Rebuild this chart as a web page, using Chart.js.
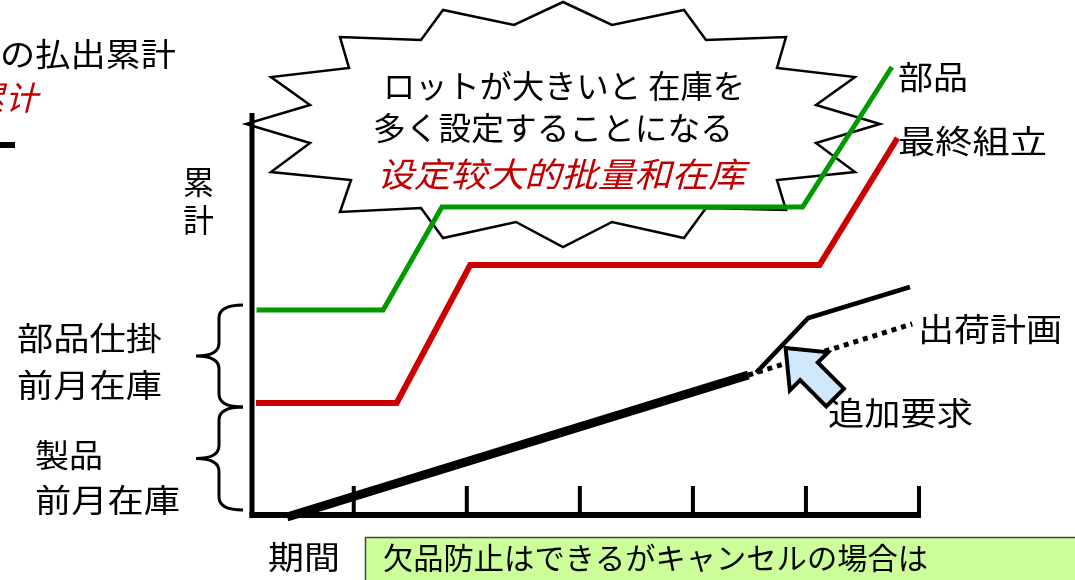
<!DOCTYPE html>
<html>
<head>
<meta charset="utf-8">
<script src="https://cdn.jsdelivr.net/npm/chart.js@4"></script>
<style>
  body { margin: 0; background: #fff; }
  canvas { display: block; }
</style>
</head>
<body>
<canvas id="lotChart" width="1075" height="580"></canvas>
<script>
// data (x = period units, y = cumulative units)
const periodTicks = [9, 19, 29, 39, 49, 59];
const partsX = [0.4, 11.6, 16.8, 48.7, 56.6];
const partsY = [51.25, 51.25, 77, 77, 112];
const assyX = [0.35, 12.8, 19.3, 50.2, 57.1];
const assyY = [28, 28, 62.5, 62.5, 94.25];
const shipX = [3.1, 43.9];
const shipY = [-0.5, 35];
const planX = [43.9, 58.4];
const planY = [35, 47.75];
const extraX = [44.6, 49.2, 58.2];
const extraY = [35.6, 49.25, 57];
const yAxisTop = 100.5;

const JP = '"Noto Sans CJK JP", "Noto Sans CJK SC", sans-serif';
const SC = '"Noto Sans CJK SC", "Noto Sans CJK JP", sans-serif';

function pts(xs, ys) {
    return xs.map((x, i) => ({ x: x, y: ys[i] }));
}

// stretch text to a given width (source slide was scaled wide)
function fitText(ctx, text, x, cy, w, size, color, italic, family) {
    ctx.save();
    ctx.font = (italic ? 'italic ' : '') + size + 'px ' + (family || JP);
    ctx.fillStyle = color || '#000';
    ctx.textBaseline = 'middle';
    ctx.textAlign = 'left';
    const m = ctx.measureText(text).width;
    ctx.translate(x, cy);
    ctx.scale(w / m, 1);
    ctx.fillText(text, 0, 0);
    ctx.restore();
}

const callout = [
    [563,2],[612,25],[684,10],[706,40],[786,37],[777,68],[855,77],[816,105],
    [880,124],[816,143],[855,172],[777,180],[786,210],[706,208],[684,238],
    [612,222],[563,247],[516,222],[443,238],[421,208],[340,212],[351,180],
    [271,172],[310,143],[246,124],[310,105],[271,77],[349,68],[340,37],
    [421,40],[443,10],[514,25]
];

const labels = [
    { t: 'の払出累計', x: 0, y: 54, w: 176 },
    { t: 'ロットが大きいと 在庫を', x: 383, y: 86, w: 362, s: 32 },
    { t: '多く設定することになる', x: 373, y: 128, w: 360, s: 32 },
    { t: '设定较大的批量和在库', x: 377, y: 174, w: 368, s: 34, c: '#c00000', i: true, f: SC },
    { t: '部品', x: 898, y: 77, w: 70 },
    { t: '最終組立', x: 898, y: 141, w: 149 },
    { t: '出荷計画', x: 918, y: 329, w: 144 },
    { t: '追加要求', x: 828, y: 413, w: 145 },
    { t: '累', x: 183, y: 182, w: 31 },
    { t: '計', x: 183, y: 220, w: 31 },
    { t: '部品仕掛', x: 17, y: 338, w: 145 },
    { t: '前月在庫', x: 17, y: 385, w: 145 },
    { t: '製品', x: 35, y: 455, w: 68 },
    { t: '前月在庫', x: 35, y: 500, w: 145 },
    { t: '期間', x: 268, y: 557, w: 72 }
];

function brace(ctx, xr, yt, yb) {
    const xm = xr - 24, xt = xr - 47, ym = (yt + yb) / 2, r = 13;
    ctx.beginPath();
    ctx.moveTo(xr, yt);
    ctx.quadraticCurveTo(xm, yt, xm, yt + r);
    ctx.lineTo(xm, ym - r);
    ctx.quadraticCurveTo(xm, ym, xt, ym);
    ctx.quadraticCurveTo(xm, ym, xm, ym + r);
    ctx.lineTo(xm, yb - r);
    ctx.quadraticCurveTo(xm, yb, xr, yb);
    ctx.stroke();
}

const decorPlugin = {
    id: 'decor',
    beforeDatasetsDraw(chart) {
        const ctx = chart.ctx;
        const xs = chart.scales.x, ys = chart.scales.y;
        const x0 = xs.getPixelForValue(0), y0 = ys.getPixelForValue(0);
        ctx.save();
        // starburst callout
        ctx.beginPath();
        callout.forEach((p, i) => i ? ctx.lineTo(p[0], p[1]) : ctx.moveTo(p[0], p[1]));
        ctx.closePath();
        ctx.fillStyle = '#fff';
        ctx.fill();
        ctx.lineWidth = 2.5;
        ctx.strokeStyle = '#000';
        ctx.lineJoin = 'miter';
        ctx.stroke();
        // axes
        ctx.lineCap = 'butt';
        ctx.lineWidth = 5;
        ctx.beginPath();
        ctx.moveTo(x0, y0 + 3);
        ctx.lineTo(x0, ys.getPixelForValue(yAxisTop));
        ctx.stroke();
        ctx.lineWidth = 6;
        ctx.beginPath();
        ctx.moveTo(x0 - 2.5, y0);
        ctx.lineTo(xs.getPixelForValue(periodTicks[periodTicks.length - 1]) + 2, y0);
        ctx.stroke();
        ctx.lineWidth = 4;
        periodTicks.forEach(v => {
            const px = xs.getPixelForValue(v);
            ctx.beginPath();
            ctx.moveTo(px, y0);
            ctx.lineTo(px, y0 - 29);
            ctx.stroke();
        });
        ctx.restore();
    },
    afterDatasetsDraw(chart) {
        const ctx = chart.ctx;
        const xs = chart.scales.x, ys = chart.scales.y;
        ctx.save();
        // block arrow pointing at the added demand line
        const tipX = xs.getPixelForValue(47.2), tipY = ys.getPixelForValue(41.75);
        const d = [-Math.SQRT1_2, -Math.SQRT1_2], n = [Math.SQRT1_2, -Math.SQRT1_2];
        const L = 70, H = 33, hw = 27, sw = 12.5;
        const bx = tipX - d[0] * H, by = tipY - d[1] * H;
        const tx = tipX - d[0] * L, ty = tipY - d[1] * L;
        ctx.beginPath();
        ctx.moveTo(tipX, tipY);
        ctx.lineTo(bx + n[0] * hw, by + n[1] * hw);
        ctx.lineTo(bx + n[0] * sw, by + n[1] * sw);
        ctx.lineTo(tx + n[0] * sw, ty + n[1] * sw);
        ctx.lineTo(tx - n[0] * sw, ty - n[1] * sw);
        ctx.lineTo(bx - n[0] * sw, by - n[1] * sw);
        ctx.lineTo(bx - n[0] * hw, by - n[1] * hw);
        ctx.closePath();
        ctx.fillStyle = '#cfe8fc';
        ctx.fill();
        ctx.lineWidth = 4;
        ctx.lineJoin = 'miter';
        ctx.strokeStyle = '#000';
        ctx.stroke();

        // braces for opening stock
        ctx.lineWidth = 3;
        const xr = xs.getPixelForValue(0) - 9;
        const yg = ys.getPixelForValue(partsY[0]) - 5;
        const yr = ys.getPixelForValue(assyY[0]) + 4;
        const yb = ys.getPixelForValue(0) - 5;
        brace(ctx, xr, yg, yr);
        brace(ctx, xr, yr, yb);

        // cut-off legend remnants at top left
        ctx.font = 'italic 33px ' + SC;
        ctx.fillStyle = '#c00000';
        ctx.textAlign = 'right';
        ctx.textBaseline = 'middle';
        ctx.fillText('累计', 38, 97);
        ctx.lineWidth = 6;
        ctx.beginPath();
        ctx.moveTo(-20, 145);
        ctx.lineTo(15, 145);
        ctx.stroke();

        // note box at bottom
        ctx.fillStyle = '#ccff99';
        ctx.fillRect(365, 537, 720, 60);
        ctx.lineWidth = 1.5;
        ctx.strokeStyle = '#444';
        ctx.strokeRect(365.5, 537.5, 720, 60);
        fitText(ctx, '欠品防止はできるがキャンセルの場合は', 383, 558, 545, 30);

        labels.forEach(l => fitText(ctx, l.t, l.x, l.y, l.w, l.s || 32, l.c, l.i, l.f));
        ctx.restore();
    }
};

new Chart(document.getElementById('lotChart'), {
    type: 'line',
    data: {
        datasets: [
            { label: '部品', data: pts(partsX, partsY), borderColor: '#009900', borderWidth: 5 },
            { label: '最終組立', data: pts(assyX, assyY), borderColor: '#cc0000', borderWidth: 6 },
            { label: '出荷実績', data: pts(shipX, shipY), borderColor: '#000', borderWidth: 9 },
            { label: '出荷計画', data: pts(planX, planY), borderColor: '#000', borderWidth: 5, borderDash: [5, 5] },
            { label: '追加要求', data: pts(extraX, extraY), borderColor: '#000', borderWidth: 4.5 }
        ]
    },
    options: {
        responsive: false,
        animation: false,
        devicePixelRatio: 1,
        layout: { padding: { left: 252, right: 156, top: 15, bottom: 65 } },
        elements: {
            point: { radius: 0 },
            line: { tension: 0, fill: false, borderCapStyle: 'butt', borderJoinStyle: 'miter' }
        },
        datasets: { line: { clip: false } },
        scales: {
            x: { type: 'linear', min: 0, max: 59, display: false },
            y: { type: 'linear', min: 0, max: 125, display: false }
        },
        plugins: {
            legend: { display: false },
            tooltip: { enabled: false }
        }
    },
    plugins: [decorPlugin]
});
</script>
</body>
</html>
